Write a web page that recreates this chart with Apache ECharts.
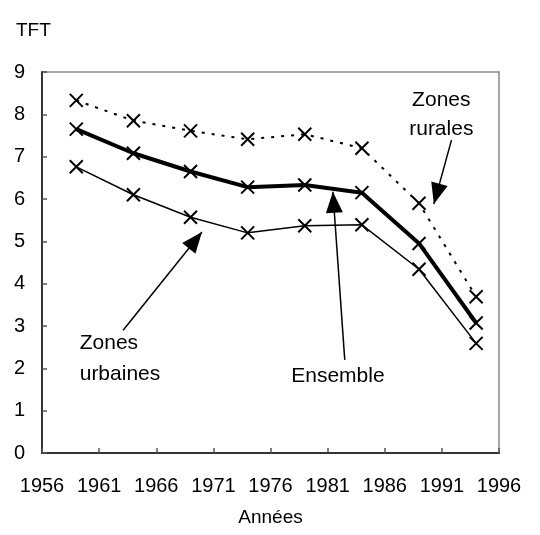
<!DOCTYPE html>
<html>
<head>
<meta charset="utf-8">
<script src="https://cdn.jsdelivr.net/npm/echarts@6/dist/echarts.min.js"></script>
<style>
html,body{margin:0;padding:0;background:#fff;}
#chart{width:540px;height:535px;}
</style>
</head>
<body>
<div id="chart"></div>
<script>
var years = [1959, 1964, 1969, 1974, 1979, 1984, 1989, 1994];
var rurales = [8.33, 7.85, 7.61, 7.41, 7.53, 7.20, 5.90, 3.69];
var ensemble = [7.65, 7.08, 6.65, 6.28, 6.33, 6.15, 4.95, 3.07];
var urbaines = [6.76, 6.10, 5.57, 5.20, 5.37, 5.39, 4.34, 2.59];
var xTickLabels = [1956, 1961, 1966, 1971, 1976, 1981, 1986, 1991, 1996];

// annotation texts [x, y] in data units
var annotTexts = [
  { text: 'Zones\nrurales', pos: [1990.95, 8.0], align: 'center', lh: 29 },
  { text: 'Zones\nurbaines', pos: [1959.3, 2.22], align: 'left', lh: 31 },
  { text: 'Ensemble', pos: [1981.9, 1.82], align: 'center', lh: 22 }
];
// arrows: [tail, tip] in data units
var arrows = [
  [[1991.84, 7.39], [1990.3, 5.88]],
  [[1982.5, 2.2], [1981.46, 6.17]],
  [[1963.1, 2.9], [1970.0, 5.22]]
];

var FONT = '"Liberation Sans", Arial, sans-serif';
function pairs(vals) { return years.map(function (y, i) { return [y, vals[i]]; }); }
var X = 'path://M0,0L10,10M0,10L10,0';

var chart = echarts.init(document.getElementById('chart'));
chart.setOption({
  animation: false,
  backgroundColor: '#fff',
  title: {
    text: 'TFT', left: 11, top: 16,
    textStyle: { fontFamily: FONT, fontSize: 19, fontWeight: 'normal', color: '#000' }
  },
  grid: {
    left: 42, right: 41, top: 72, bottom: 82,
    show: true, borderColor: '#888', borderWidth: 1.5, backgroundColor: 'transparent'
  },
  xAxis: {
    type: 'value', min: 1956, max: 1996,
    name: 'Années', nameLocation: 'middle', nameGap: 55,
    nameTextStyle: { fontFamily: FONT, fontSize: 19, color: '#000' },
    axisLine: { show: true, lineStyle: { color: '#333', width: 2 } },
    axisTick: { show: true, inside: true, length: 5, lineStyle: { color: '#555', width: 1.5 }, customValues: xTickLabels },
    axisLabel: { fontFamily: FONT, fontSize: 20, color: '#000', margin: 23, customValues: xTickLabels,
      formatter: function (v) { return String(v); } },
    splitLine: { show: false }
  },
  yAxis: {
    type: 'value', min: 0, max: 9, interval: 1,
    axisLine: { show: true, lineStyle: { color: '#333', width: 2 } },
    axisTick: { show: true, inside: true, length: 5, lineStyle: { color: '#555', width: 1.5 } },
    axisLabel: { fontFamily: FONT, fontSize: 20, color: '#000', margin: 17 },
    splitLine: { show: false }
  },
  series: [
    {
      name: 'Zones rurales', type: 'line', data: pairs(rurales),
      symbol: X, symbolSize: 13,
      itemStyle: { color: '#000', borderColor: '#000', borderWidth: 2 },
      lineStyle: { color: '#000', width: 2, type: [3, 7] }
    },
    {
      name: 'Ensemble', type: 'line', data: pairs(ensemble),
      symbol: X, symbolSize: 13,
      itemStyle: { color: '#000', borderColor: '#000', borderWidth: 2 },
      lineStyle: { color: '#000', width: 4 }
    },
    {
      name: 'Zones urbaines', type: 'line', data: pairs(urbaines),
      symbol: X, symbolSize: 13,
      itemStyle: { color: '#000', borderColor: '#000', borderWidth: 2 },
      lineStyle: { color: '#000', width: 1.5 }
    },
    {
      name: 'annotations', type: 'scatter', symbolSize: 0, silent: true,
      itemStyle: { opacity: 1, color: '#000' },
      data: annotTexts.map(function (a) {
        return {
          value: a.pos,
          label: {
            show: true, position: 'inside', formatter: a.text, align: a.align,
            verticalAlign: 'middle', lineHeight: a.lh,
            fontFamily: FONT, fontSize: 21, color: '#000', opacity: 1
          }
        };
      }),
      markLine: {
        silent: true, animation: false,
        symbol: ['none', 'triangle'], symbolSize: [17, 21],
        symbolOffset: [[0, 0], [0, 10.5]],
        label: { show: false },
        lineStyle: { color: '#000', width: 1.5, type: 'solid', opacity: 1 },
        itemStyle: { color: '#000' },
        emphasis: { disabled: true },
        data: arrows.map(function (a) { return [{ coord: a[0] }, { coord: a[1] }]; })
      }
    }
  ]
});
</script>
</body>
</html>
